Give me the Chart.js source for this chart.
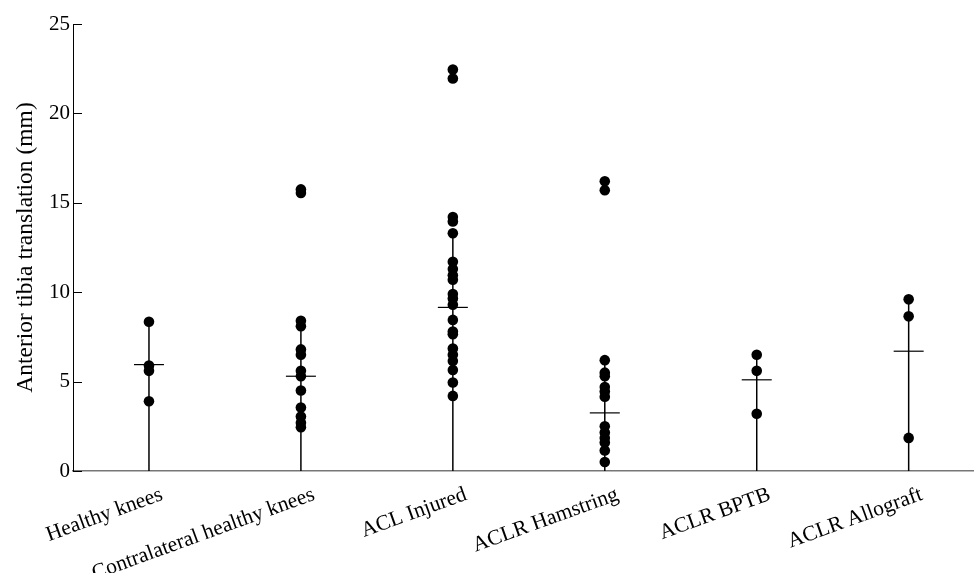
<!DOCTYPE html>
<html>
<head>
<meta charset="utf-8">
<script src="https://cdn.jsdelivr.net/npm/chart.js@4.4.1/dist/chart.umd.min.js"></script>
<style>
  body { margin: 0; background: #fff; }
  canvas { display: block; }
</style>
</head>
<body>
<canvas id="chart" width="974" height="573"></canvas>
<script>
// categories and values (mm)
var categories = ["Healthy knees", "Contralateral healthy knees", "ACL Injured",
                  "ACLR Hamstring", "ACLR BPTB", "ACLR Allograft"];

var healthy = [8.35, 5.9, 5.6, 3.9];
var contralateral = [15.75, 15.55, 8.4, 8.1, 6.8, 6.5, 5.6, 5.3, 4.5, 3.55, 3.05, 2.7, 2.45];
var aclInjured = [22.45, 21.95, 14.2, 13.95, 13.3, 11.7, 11.3, 10.95, 10.7, 9.9, 9.65, 9.3,
                  8.45, 7.8, 7.65, 6.85, 6.5, 6.15, 5.65, 4.95, 4.2];
var hamstring = [16.2, 15.7, 6.2, 5.5, 5.3, 4.7, 4.45, 4.15, 2.5, 2.15, 1.85, 1.6, 1.15, 0.5];
var bptb = [6.5, 5.6, 3.2];
var allograft = [9.6, 8.65, 1.85];

var means = [5.95, 5.3, 9.15, 3.25, 5.1, 6.7];
var lineTops = [8.35, 8.4, 13.3, 6.2, 6.5, 9.6];
var yTicks = [0, 5, 10, 15, 20, 25];

var groups = [healthy, contralateral, aclInjured, hamstring, bptb, allograft];
var font = "'Liberation Serif', 'Times New Roman', serif";

var dots = [];
groups.forEach(function(g, i){
    g.forEach(function(v){ dots.push({x: i, y: v}); });
});

var datasets = [{
    type: 'scatter',
    data: dots,
    pointRadius: 5.3,
    pointHoverRadius: 5.3,
    backgroundColor: '#000',
    borderWidth: 0,
    order: 0
}, {
    type: 'scatter',
    data: means.map(function(m, i){ return {x: i, y: m}; }),
    pointStyle: 'line',
    pointRadius: 15,
    pointHoverRadius: 15,
    borderColor: '#000',
    borderWidth: 1.2,
    order: 1
}];
lineTops.forEach(function(t, i){
    datasets.push({
        type: 'line',
        data: [{x: i, y: 0}, {x: i, y: t}],
        borderColor: '#000',
        borderWidth: 1.5,
        pointRadius: 0,
        order: 2
    });
});

// y tick marks point inward, x labels drawn slanted under the axis
var axisExtras = {
    id: 'axisExtras',
    afterDraw: function(chart){
        var ctx = chart.ctx, xs = chart.scales.x, ys = chart.scales.y;
        ctx.save();
        ctx.strokeStyle = '#000';
        ctx.lineWidth = 1;
        yTicks.forEach(function(v){
            var py = Math.round(ys.getPixelForValue(v)) + 0.5;
            ctx.beginPath();
            ctx.moveTo(ys.right, py);
            ctx.lineTo(ys.right + 9, py);
            ctx.stroke();
        });
        ctx.fillStyle = '#000';
        ctx.font = "21.5px " + font;
        ctx.textAlign = 'right';
        ctx.textBaseline = 'middle';
        categories.forEach(function(c, i){
            var px = xs.getPixelForValue(i);
            ctx.save();
            ctx.translate(px + 13, ys.bottom + 23);
            ctx.rotate(-20 * Math.PI / 180);
            ctx.fillText(c, 0, 0);
            ctx.restore();
        });
        ctx.restore();
    }
};

new Chart(document.getElementById('chart'), {
    data: { datasets: datasets },
    options: {
        responsive: false,
        animation: false,
        layout: { autoPadding: false, padding: { top: 24, right: 0, bottom: 102, left: 0 } },
        plugins: { legend: { display: false }, tooltip: { enabled: false } },
        scales: {
            x: {
                type: 'linear',
                min: -0.5,
                max: 5.43,
                grid: { display: false, drawTicks: false },
                border: { display: true, color: '#777', width: 1.5 },
                ticks: { display: false },
                afterFit: function(s){ s.height = 0; s.paddingLeft = 0; s.paddingRight = 0; }
            },
            y: {
                min: 0,
                max: 25,
                afterBuildTicks: function(s){ s.ticks = yTicks.map(function(v){ return {value: v}; }); },
                grid: { display: false, drawTicks: false },
                border: { display: true, color: '#000', width: 1 },
                ticks: { color: '#000', padding: 3, font: { family: font, size: 21 } },
                title: {
                    display: true,
                    text: 'Anterior tibia translation (mm)',
                    color: '#000',
                    font: { family: font, size: 23.5 },
                    padding: { top: 12, bottom: 0 }
                },
                afterFit: function(s){ s.width = 73; s.paddingTop = 0; s.paddingBottom = 0; }
            }
        }
    },
    plugins: [axisExtras]
});
</script>
</body>
</html>
